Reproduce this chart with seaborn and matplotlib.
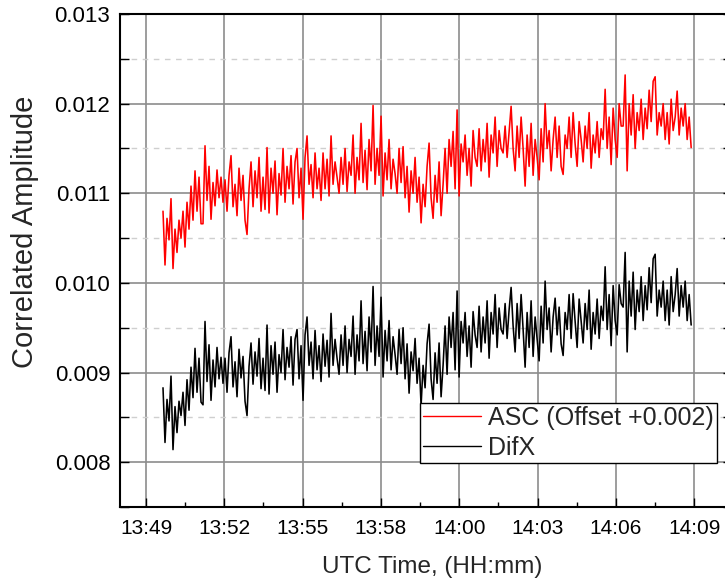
import numpy as np
import pandas as pd
import matplotlib
matplotlib.use("Agg")
import matplotlib.pyplot as plt
import seaborn as sns
from matplotlib.ticker import MultipleLocator, FixedLocator, FormatStrFormatter

# ---------------- data ----------------
# x axis: minutes after 13:49
tick_minutes = [0.0, 2.857, 5.714, 8.571, 11.429, 14.286, 17.143, 20.0]
tick_labels = ["13:49", "13:52", "13:55", "13:58", "14:00", "14:03", "14:06", "14:09"]
t_first, t_last = 0.62, 19.89  # first / last sample time (minutes after 13:49)

asc_offset = 0.002
series_names = ["ASC (Offset +0.002)", "DifX"]
series_colors = ["#ff0000", "#000000"]

asc = [
    0.00880, 0.00820, 0.00872, 0.00848, 0.00894, 0.00816, 0.00860, 0.00834, 0.00870, 0.00850,
    0.00880, 0.00840, 0.00890, 0.00860, 0.00908, 0.00870, 0.00925, 0.00880, 0.00918, 0.00866,
    0.00866, 0.00953, 0.00892, 0.00930, 0.00871, 0.00912, 0.00886, 0.00926, 0.00895, 0.00918,
    0.00890, 0.00915, 0.00880, 0.00920, 0.00942, 0.00885, 0.00910, 0.00875, 0.00928, 0.00892,
    0.00920, 0.00870, 0.00854, 0.00905, 0.00935, 0.00885, 0.00925, 0.00895, 0.00940, 0.00880,
    0.00918, 0.00882, 0.00951, 0.00878, 0.00928, 0.00900, 0.00936, 0.00876, 0.00922, 0.00898,
    0.00950, 0.00890, 0.00930, 0.00905, 0.00942, 0.00888, 0.00935, 0.00950, 0.00895, 0.00928,
    0.00871, 0.00940, 0.00964, 0.00910, 0.00932, 0.00895, 0.00945, 0.00905, 0.00928, 0.00892,
    0.00945, 0.00905, 0.00938, 0.00897, 0.00964, 0.00910, 0.00935, 0.00918, 0.00900, 0.00940,
    0.00910, 0.00950, 0.00902, 0.00935, 0.00920, 0.00965, 0.00900, 0.00940, 0.00915, 0.00978,
    0.00912, 0.00948, 0.00904, 0.00960, 0.00925, 0.00998, 0.00910, 0.00950, 0.00920, 0.00986,
    0.00897, 0.00945, 0.00915, 0.00960, 0.00905, 0.00938, 0.00922, 0.00900, 0.00950, 0.00912,
    0.00952, 0.00895, 0.00930, 0.00879, 0.00925, 0.00900, 0.00940, 0.00890, 0.00918, 0.00867,
    0.00910, 0.00885, 0.00930, 0.00956, 0.00895, 0.00872, 0.00920, 0.00890, 0.00935, 0.00875,
    0.00910, 0.00950, 0.00900, 0.00960, 0.00930, 0.00969, 0.00905, 0.00993, 0.00897, 0.00955,
    0.00935, 0.00965, 0.00920, 0.00950, 0.00908, 0.00970, 0.00940, 0.00930, 0.00972, 0.00925,
    0.00960, 0.00935, 0.00978, 0.00918, 0.00965, 0.00945, 0.00985, 0.00930, 0.00970, 0.00950,
    0.00945, 0.00975, 0.00940, 0.00968, 0.00997, 0.00950, 0.00925, 0.00975, 0.00940, 0.00985,
    0.00950, 0.00908, 0.00965, 0.00930, 0.00978, 0.00920, 0.00960, 0.00940, 0.00915, 0.00972,
    0.00935, 0.01000, 0.00950, 0.00970, 0.00925, 0.00960, 0.00985, 0.00940, 0.00975, 0.00930,
    0.00921, 0.00965, 0.00950, 0.00985, 0.00940, 0.00990, 0.00955, 0.00930, 0.00980, 0.00960,
    0.00935, 0.00975, 0.00950, 0.00990, 0.00928, 0.00965, 0.00945, 0.00980, 0.00940, 0.00972,
    0.00960, 0.01016, 0.00950, 0.00985, 0.00932, 0.00995, 0.00960, 0.00940, 0.01000, 0.00975,
    0.00975, 0.01032, 0.00925, 0.01000, 0.00965, 0.01010, 0.00950, 0.00990, 0.00970, 0.01005,
    0.00960, 0.00995, 0.00972, 0.01015, 0.00980, 0.01025, 0.01030, 0.00965, 0.00990, 0.00975,
    0.01000, 0.00960, 0.00990, 0.00955, 0.01005, 0.00970, 0.00985, 0.01014, 0.00965, 0.00995,
    0.00975, 0.01000, 0.00960, 0.00985, 0.00951,
]

difx = [
    0.00883, 0.00822, 0.00870, 0.00846, 0.00896, 0.00814, 0.00862, 0.00833, 0.00868, 0.00852,
    0.00878, 0.00841, 0.00892, 0.00858, 0.00906, 0.00872, 0.00927, 0.00878, 0.00916, 0.00867,
    0.00864, 0.00957, 0.00890, 0.00931, 0.00869, 0.00914, 0.00884, 0.00928, 0.00893, 0.00917,
    0.00888, 0.00916, 0.00878, 0.00922, 0.00940, 0.00884, 0.00912, 0.00873, 0.00926, 0.00894,
    0.00918, 0.00868, 0.00852, 0.00907, 0.00933, 0.00887, 0.00923, 0.00896, 0.00938, 0.00882,
    0.00916, 0.00880, 0.00953, 0.00876, 0.00930, 0.00898, 0.00934, 0.00878, 0.00920, 0.00900,
    0.00948, 0.00892, 0.00928, 0.00906, 0.00940, 0.00886, 0.00937, 0.00948, 0.00893, 0.00930,
    0.00869, 0.00942, 0.00962, 0.00908, 0.00934, 0.00893, 0.00947, 0.00903, 0.00930, 0.00890,
    0.00943, 0.00907, 0.00936, 0.00895, 0.00966, 0.00908, 0.00937, 0.00916, 0.00898, 0.00942,
    0.00908, 0.00952, 0.00900, 0.00937, 0.00918, 0.00963, 0.00898, 0.00942, 0.00913, 0.00980,
    0.00910, 0.00946, 0.00902, 0.00962, 0.00923, 0.00996, 0.00908, 0.00952, 0.00918, 0.00984,
    0.00895, 0.00947, 0.00913, 0.00958, 0.00903, 0.00940, 0.00920, 0.00898, 0.00948, 0.00910,
    0.00950, 0.00893, 0.00932, 0.00877, 0.00923, 0.00902, 0.00938, 0.00888, 0.00916, 0.00863,
    0.00908, 0.00883, 0.00932, 0.00954, 0.00893, 0.00870, 0.00922, 0.00888, 0.00933, 0.00873,
    0.00908, 0.00952, 0.00898, 0.00962, 0.00928, 0.00967, 0.00903, 0.00991, 0.00895, 0.00957,
    0.00933, 0.00967, 0.00918, 0.00952, 0.00906, 0.00968, 0.00942, 0.00928, 0.00974, 0.00923,
    0.00962, 0.00933, 0.00980, 0.00916, 0.00967, 0.00943, 0.00987, 0.00928, 0.00972, 0.00948,
    0.00943, 0.00977, 0.00938, 0.00970, 0.00995, 0.00952, 0.00923, 0.00977, 0.00938, 0.00987,
    0.00948, 0.00906, 0.00967, 0.00928, 0.00980, 0.00918, 0.00962, 0.00938, 0.00913, 0.00974,
    0.00933, 0.01002, 0.00948, 0.00972, 0.00923, 0.00962, 0.00983, 0.00942, 0.00973, 0.00932,
    0.00919, 0.00967, 0.00948, 0.00987, 0.00938, 0.00988, 0.00957, 0.00928, 0.00982, 0.00958,
    0.00933, 0.00977, 0.00948, 0.00992, 0.00926, 0.00967, 0.00943, 0.00982, 0.00938, 0.00974,
    0.00958, 0.01018, 0.00948, 0.00987, 0.00930, 0.00997, 0.00958, 0.00942, 0.00998, 0.00977,
    0.00973, 0.01034, 0.00923, 0.01002, 0.00963, 0.01012, 0.00948, 0.00992, 0.00968, 0.01007,
    0.00958, 0.00997, 0.00970, 0.01017, 0.00978, 0.01027, 0.01032, 0.00963, 0.00992, 0.00973,
    0.01002, 0.00958, 0.00992, 0.00953, 0.01007, 0.00968, 0.00987, 0.01016, 0.00963, 0.00997,
    0.00973, 0.01002, 0.00958, 0.00987, 0.00953,
]

# ---------------- build table ----------------
t = np.linspace(t_first, t_last, len(asc))
df = pd.concat([
    pd.DataFrame({"t": t, "value": np.array(asc) + asc_offset, "series": series_names[0]}),
    pd.DataFrame({"t": t, "value": np.array(difx), "series": series_names[1]}),
], ignore_index=True)

# ---------------- style ----------------
sns.set_theme(style="white")
plt.rcParams["font.family"] = ["Liberation Sans", "DejaVu Sans"]

fig = plt.figure(figsize=(7.25, 5.83), dpi=100)
ax = fig.add_axes([120 / 725, 76 / 583, 612 / 725, 493 / 583])

sns.lineplot(data=df, x="t", y="value", hue="series", hue_order=series_names,
             palette=series_colors, estimator=None, sort=False, lw=1.15, ax=ax)

ax.set_xlim(-0.949, 21.38)
ax.set_ylim(0.0075, 0.013)

ax.xaxis.set_major_locator(FixedLocator(tick_minutes))
ax.set_xticklabels(tick_labels)
mids = [(a + b) / 2 for a, b in zip(tick_minutes[:-1], tick_minutes[1:])]
ax.xaxis.set_minor_locator(FixedLocator(mids))
ax.yaxis.set_major_locator(MultipleLocator(0.001))
ax.yaxis.set_minor_locator(MultipleLocator(0.0005))
ax.yaxis.set_major_formatter(FormatStrFormatter("%.3f"))

ax.tick_params(which="both", direction="in", colors="black", width=1.0,
               left=True, right=True, bottom=True, top=False)
ax.tick_params(axis="x", which="major", length=6.5, labelsize=15, pad=9)
ax.tick_params(axis="x", which="minor", length=3.5)
ax.tick_params(axis="y", which="both", length=6.5, labelsize=16, pad=7)

for side in ["left", "bottom", "top", "right"]:
    ax.spines[side].set_visible(True)
    ax.spines[side].set_color("black")
    ax.spines[side].set_linewidth(1.5)

ax.set_axisbelow(True)
ax.grid(True, which="major", axis="both", color="#8c8c8c", lw=1.2, ls="-")
ax.yaxis.grid(True, which="minor", color="#cfcfcf", lw=1.0, ls=(0, (4, 4)))

ax.set_xlabel("UTC Time, (HH:mm)", fontsize=17.5)
ax.xaxis.set_label_coords((432 - 120) / 612, -(556 - 507) / 493)
ax.set_ylabel("Correlated Amplitude", fontsize=21)
ax.yaxis.set_label_coords((39 - 120) / 612, (507 - 232) / 493)

handles, labels = ax.get_legend_handles_labels()
leg = ax.legend(handles, labels, loc="lower right", bbox_to_anchor=(0.9755, 0.089),
                frameon=True, fancybox=False, edgecolor="black", framealpha=1,
                fontsize=18, handlelength=2.3, borderpad=0.12, labelspacing=0.25,
                handletextpad=0.3, borderaxespad=0)
leg.get_frame().set_linewidth(1.0)
for h in leg.get_lines():
    h.set_linewidth(1.0)

fig.savefig("out.png", dpi=100)
